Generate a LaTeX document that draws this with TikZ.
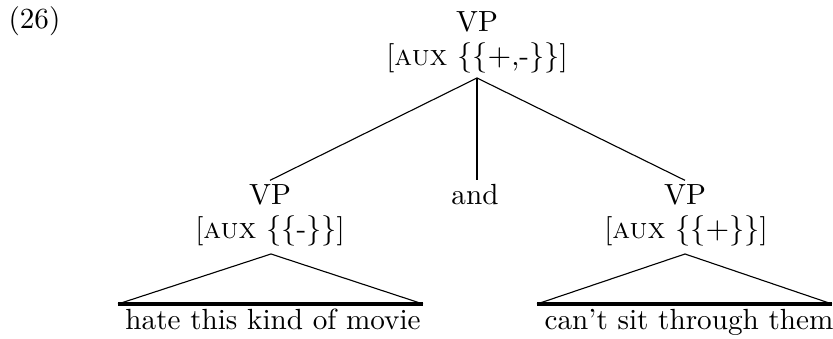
\documentclass[tikz,border=0pt]{standalone}
\begin{document}
\begin{tikzpicture}[x=0.36pt,y=-0.36pt,
  every node/.style={font=\fontsize{10.5}{12.6}\selectfont},
  lbl/.style={anchor=base,inner sep=1.5pt},
  thinline/.style={line width=0.4pt},
  midline/.style={line width=0.8pt},
  baseline/.style={line width=1.1pt}]
\useasboundingbox (0,0) rectangle (833,339);
\node[anchor=base west,inner sep=0pt] (ex) at (8,29) {(26)};
% root
\node[lbl] (top) at (477,32) {VP};
\node[lbl] (topf) at (477,66) {[\textsc{aux} $\{\{+$,-$\}\}$]};
\coordinate (topapex) at (477,78);
% daughters
\node[lbl] (lvp) at (270,205) {VP};
\node[lbl] (lvpf) at (270,239) {[\textsc{aux} $\{\{$-$\}\}$]};
\node[lbl] (and) at (475,205) {and};
\node[lbl] (rvp) at (685,205) {VP};
\node[lbl] (rvpf) at (686,239) {[\textsc{aux} $\{\{+\}\}$]};
\draw[thinline] (topapex) -- (lvp.north);
\draw[midline] (topapex) -- (and.north -| topapex);
\draw[thinline] (topapex) -- (rvp.north);
% left triangle
\coordinate (la) at (271,254);
\coordinate (lb1) at (118,304);
\coordinate (lb2) at (423,304);
\draw[thinline] (lb1) -- (la) -- (lb2);
\draw[baseline] (lb1) -- (lb2);
\node[lbl] (ltext) at (273,330) {hate this kind of movie};
% right triangle
\coordinate (ra) at (685,254);
\coordinate (rb1) at (537,304);
\coordinate (rb2) at (832,304);
\draw[thinline] (rb1) -- (ra) -- (rb2);
\draw[baseline] (rb1) -- (rb2);
\node[lbl] (rtext) at (689,330) {can't sit through them};
\end{tikzpicture}
\end{document}
